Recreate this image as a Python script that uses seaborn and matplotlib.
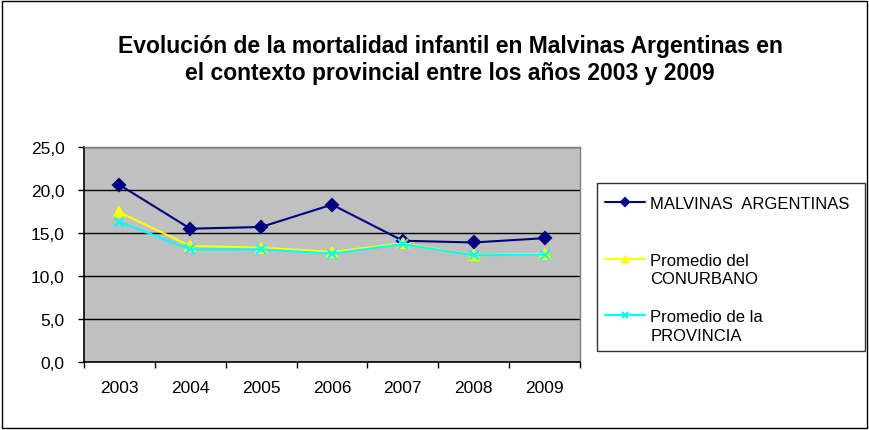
"""Mortalidad infantil en Malvinas Argentinas vs. conurbano y provincia, 2003-2009."""
import matplotlib
matplotlib.use("Agg")
import matplotlib.pyplot as plt
import pandas as pd
import seaborn as sns
from matplotlib.lines import Line2D
from matplotlib.patches import Rectangle
from matplotlib.ticker import FixedLocator, FuncFormatter

years = ["2003", "2004", "2005", "2006", "2007", "2008", "2009"]
malvinas = [20.6, 15.5, 15.7, 18.3, 14.1, 13.9, 14.4]
conurbano = [17.4, 13.5, 13.3, 12.8, 13.8, 12.4, 12.6]
provincia = [16.3, 13.1, 13.1, 12.6, 13.7, 12.4, 12.5]

labels = ["MALVINAS  ARGENTINAS", "Promedio del CONURBANO", "Promedio de la PROVINCIA"]
colors = ["#000080", "#FFFF00", "#00FFFF"]
markers = ["D", "^", "x"]

sns.set_theme(style="white")
plt.rcParams["font.family"] = ["Liberation Sans", "DejaVu Sans"]
plt.rcParams["text.color"] = "black"

fig = plt.figure(figsize=(8.69, 4.31), dpi=100)
ax = fig.add_axes([84 / 869, 1 - 363 / 431, 496 / 869, 215 / 431])
ax.set_facecolor("#C0C0C0")

# una serie por llamada: seaborn no deja mezclar marcadores rellenos y de línea
for values, label, color, marker in zip([malvinas, conurbano, provincia], labels, colors, markers):
    serie = pd.DataFrame({"year": years, "value": values})
    sns.lineplot(data=serie, x="year", y="value", color=color, marker=marker,
                 markersize=6.5, linewidth=1.5, markeredgewidth=1.5,
                 markeredgecolor=color, markerfacecolor=color,
                 ax=ax, label=label, sort=False)

ax.set_xlim(-0.5, len(years) - 0.5)
ax.set_ylim(0, 25)
ax.set_yticks([0, 5, 10, 15, 20, 25])
ax.yaxis.set_major_formatter(FuncFormatter(lambda v, _: f"{v:.1f}".replace(".", ",")))
ax.yaxis.grid(True, color="black", linewidth=1)
ax.xaxis.grid(False)
ax.set_axisbelow(True)

ax.xaxis.set_minor_locator(FixedLocator([i - 0.5 for i in range(len(years) + 1)]))
ax.tick_params(axis="x", which="major", length=0, pad=13, labelsize=12.5,
               labelcolor="black")
ax.tick_params(axis="x", which="minor", length=4.5, width=1, direction="out",
               color="black", bottom=True)
ax.tick_params(axis="y", length=4, width=1, direction="out", left=True, color="black",
               pad=10, labelsize=12.5, labelcolor="black")
ax.set_xlabel("")
ax.set_ylabel("")

for side in ["left", "bottom"]:
    ax.spines[side].set_color("black")
    ax.spines[side].set_linewidth(1.2)
for side in ["top", "right"]:
    ax.spines[side].set_color("#808080")
    ax.spines[side].set_linewidth(1)

# leyenda al estilo Excel: el símbolo va en la primera línea de cada rótulo
h_mal, h_con, h_pro = ax.lines[:3]
ax.get_legend().remove()
blank = Line2D([], [], linestyle="none")
leg_handles = [h_mal, blank, blank, h_con, blank, blank, h_pro, blank]
leg_labels = ["MALVINAS  ARGENTINAS", " ", " ", "Promedio del", "CONURBANO", " ",
              "Promedio de la", "PROVINCIA"]
leg = fig.legend(
    leg_handles, leg_labels, loc="upper left",
    bbox_to_anchor=(597 / 869, 1 - 184 / 431, 268 / 869, 0), mode="expand",
    borderaxespad=0, frameon=True, fancybox=False, fontsize=12,
    handlelength=2.35, handletextpad=0.36, labelspacing=0.23, borderpad=0.5,
    markerscale=0.7, title=" ", title_fontsize=1.5,  # título vacío = margen superior
)
leg.get_frame().set_edgecolor("black")
leg.get_frame().set_linewidth(1)
leg.get_frame().set_facecolor("white")

fig.text(0.518, 0.861,
         "Evolución de la mortalidad infantil en Malvinas Argentinas en\n"
         "el contexto provincial entre los años 2003 y 2009",
         ha="center", va="center", fontsize=16.5, fontweight="bold", linespacing=1.22)

fig.patches.append(Rectangle((2 / 869, 2 / 431), 865 / 869, 427 / 431,
                             transform=fig.transFigure, fill=False,
                             edgecolor="black", linewidth=1))

fig.savefig("out.png", dpi=100)
